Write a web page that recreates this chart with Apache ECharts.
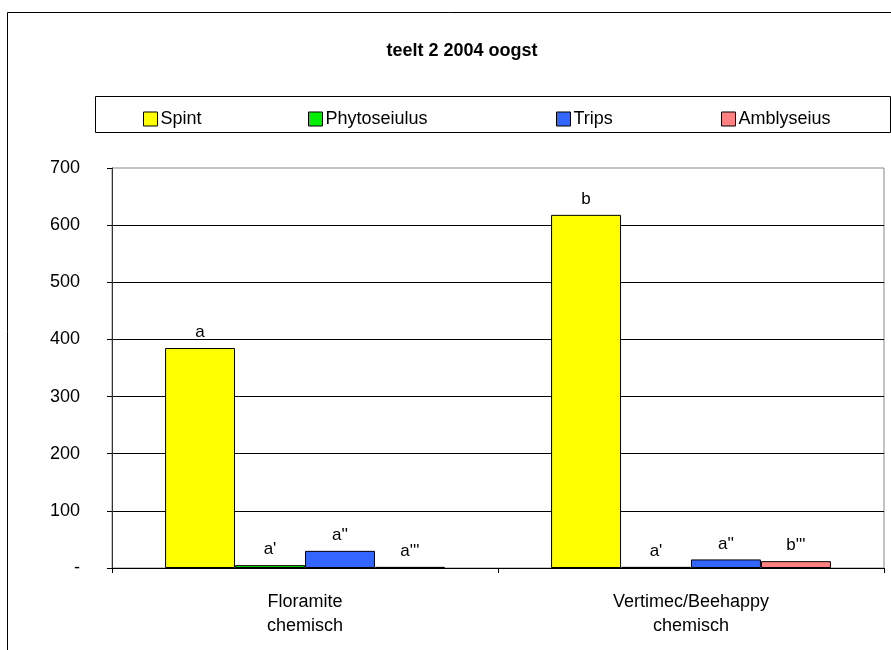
<!DOCTYPE html>
<html>
<head>
<meta charset="utf-8">
<script src="https://cdn.jsdelivr.net/npm/echarts@6/dist/echarts.min.js"></script>
<style>
  html, body { margin: 0; padding: 0; background: #fff; }
  #chartBox { width: 891px; height: 650px; }
</style>
</head>
<body>
<div id="chartBox"></div>
<script>
// categories and values
var categories = ['Floramite\nchemisch', 'Vertimec/Beehappy\nchemisch'];
var spint = [385, 618];
var phyto = [5, 2];
var trips = [30, 15];
var ambly = [2, 12];
// letters above the bars
var spintLabels = ['a', 'b'];
var phytoLabels = ["a'", "a'"];
var tripsLabels = ["a''", "a''"];
var amblyLabels = ["a'''", "b'''"];
var yTicks = [0, 100, 200, 300, 400, 500, 600, 700];

var font = 'Liberation Sans, Arial, sans-serif';

function barSeries (name, data, color, labels) {
  return {
    name: name,
    type: 'bar',
    data: data,
    barGap: '0%',
    barCategoryGap: '27.5%',
    itemStyle: { color: color, borderColor: '#000', borderWidth: 1 },
    label: {
      show: true,
      position: 'top',
      distance: 7,
      fontFamily: font,
      fontSize: 17,
      color: '#000',
      formatter: function (p) { return labels[p.dataIndex]; }
    }
  };
}

function legendAt (name, left) {
  return {
    data: [name],
    left: left,
    top: 105,
    icon: 'rect',
    itemWidth: 14,
    itemHeight: 14,
    itemStyle: { borderColor: '#000', borderWidth: 1 },
    textStyle: { fontFamily: font, fontSize: 18, color: '#000', padding: [0, 0, 0, -2] }
  };
}

var myChart = echarts.init(document.getElementById('chartBox'));
myChart.setOption({
  animation: false,
  title: {
    text: 'teelt 2 2004 oogst',
    left: 457,
    textAlign: 'center',
    top: 37,
    textStyle: { fontFamily: font, fontSize: 18, fontWeight: 'bold', color: '#000' }
  },
  legend: [
    legendAt('Spint', 138),
    legendAt('Phytoseiulus', 303),
    legendAt('Trips', 551),
    legendAt('Amblyseius', 716)
  ],
  graphic: [
    {
      type: 'rect',
      left: 5, top: 10,
      shape: { width: 950, height: 700 },
      style: { fill: 'none', stroke: '#000', lineWidth: 1 }
    },
    {
      type: 'rect',
      left: 93, top: 94,
      shape: { width: 795, height: 36 },
      style: { fill: 'none', stroke: '#000', lineWidth: 1 }
    }
  ],
  grid: {
    left: 112, right: 7, top: 168, bottom: 82,
    show: true, borderColor: '#888', borderWidth: 1
  },
  xAxis: {
    type: 'category',
    data: categories,
    axisLine: { lineStyle: { color: '#000' } },
    axisTick: { show: true, length: 5, lineStyle: { color: '#000' } },
    axisLabel: {
      margin: 22,
      fontFamily: font,
      fontSize: 18,
      lineHeight: 24,
      color: '#000'
    }
  },
  yAxis: {
    type: 'value',
    min: 0,
    max: 700,
    interval: 100,
    axisLine: { show: true, lineStyle: { color: '#333' } },
    axisTick: { show: true, length: 5, lineStyle: { color: '#000' } },
    splitLine: { show: true, showMaxLine: false, lineStyle: { color: '#000', width: 1 } },
    axisLabel: {
      margin: 32,
      fontFamily: font,
      fontSize: 18,
      color: '#000',
      formatter: function (v) { return yTicks.indexOf(v) === 0 ? '-' : String(v); }
    }
  },
  series: [
    barSeries('Spint', spint, '#ffff00', spintLabels),
    barSeries('Phytoseiulus', phyto, '#00ee00', phytoLabels),
    barSeries('Trips', trips, '#3366ff', tripsLabels),
    barSeries('Amblyseius', ambly, '#ff8080', amblyLabels)
  ]
});
</script>
</body>
</html>
